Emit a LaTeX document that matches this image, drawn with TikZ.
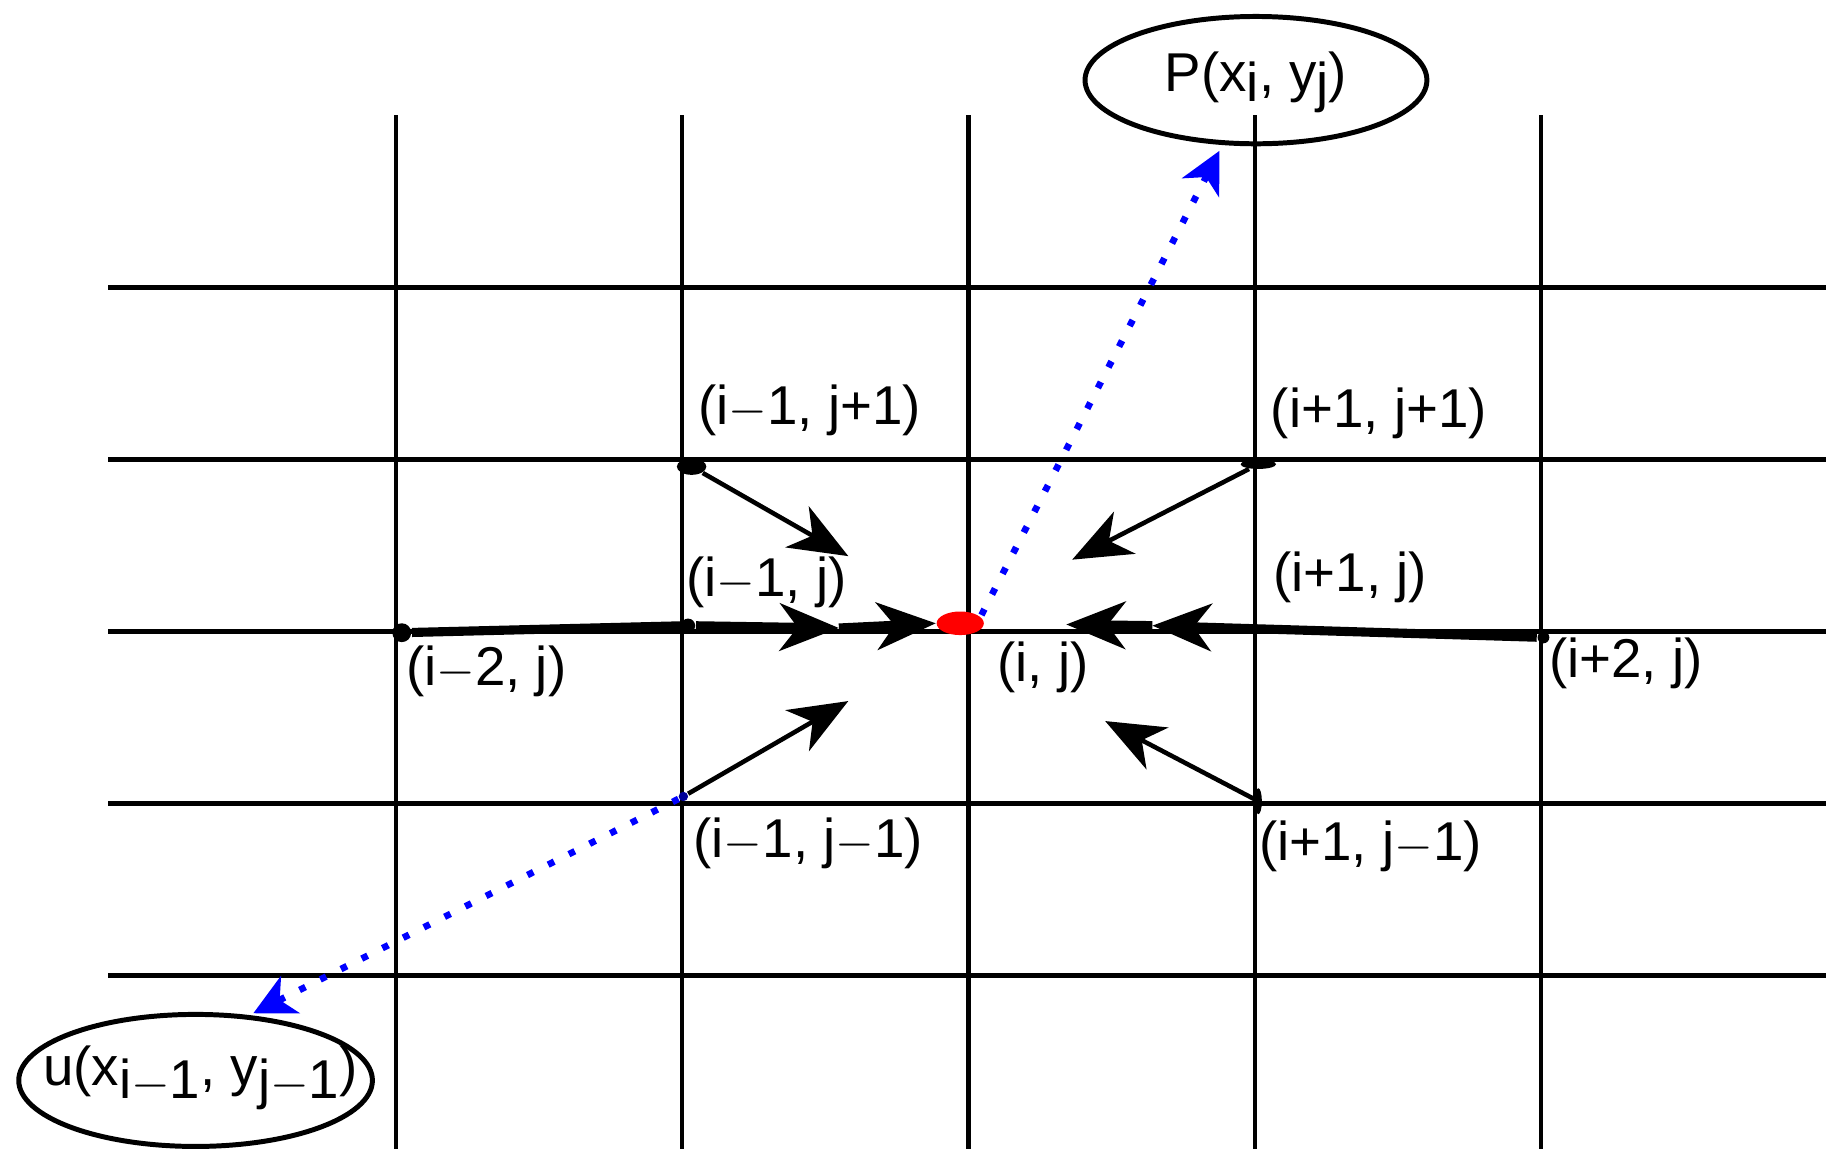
\documentclass[tikz,border=0pt]{standalone}
\usepackage{fontspec}
\setmainfont{Liberation Sans}
\usetikzlibrary{arrows.meta,shapes.geometric}
\begin{document}
\begin{tikzpicture}[x=0.01cm,y=-0.01cm,
  grid/.style={line width=1.1pt},
  arr/.style={line width=1.1pt,-{Stealth[length=0.5cm,width=0.4cm,inset=0.15cm]}},
  thk/.style={line width=2.2pt,-{Stealth[length=0.5cm,width=0.4cm,inset=0.15cm]}},
  blu/.style={blue,line width=1.6pt,dash pattern=on 1.6pt off 4pt,-{Stealth[length=0.35cm,width=0.35cm,inset=0.1cm]}},
  lab/.style={font=\fontsize{13.2}{15}\selectfont,inner sep=0pt},
  dot/.style={circle,fill=black,inner sep=0pt,minimum size=0.16cm}]
\useasboundingbox (0,0) rectangle (1560,993);
\foreach \x in {336,579,822,1065,1308} \draw[grid] (\x,98) -- (\x,975);
\foreach \y in {244,390,536,682,828} \draw[grid] (92,\y) -- (1550,\y);
\node[dot] (a) at (341,537) {};
\node[dot,minimum size=0.12cm] (b) at (584,531) {};
\node[ellipse,fill=black,inner sep=0pt,minimum width=0.25cm,minimum height=0.14cm] (c) at (587,396) {};
\node[circle,fill=blue!60!black,inner sep=0pt,minimum size=0.08cm] (d) at (580,676) {};
\node[ellipse,fill=black,inner sep=0pt,minimum width=0.3cm,minimum height=0.08cm] (e) at (1068,394) {};
\node[ellipse,fill=black,inner sep=0pt,minimum width=0.06cm,minimum height=0.22cm] (f) at (1068,680) {};
\node[dot,minimum size=0.1cm] (g) at (1310,541) {};
\node[ellipse,fill=red,inner sep=0pt,minimum width=0.4cm,minimum height=0.2cm] (ij) at (815,529) {};
\coordinate (m1) at (712,533);
\coordinate (m2) at (978,531);
\draw[line width=2.2pt] (a) -- (b);
\draw[thk] (b) -- (m1);
\draw[thk] (m1) -- (ij.west);
\draw[thk] (g) -- (m2);
\draw[thk] (m2) -- (905,530);
\draw[arr] (c) -- (720,472);
\draw[arr] (e) -- (910,475);
\draw[arr] (d) -- (720,595);
\draw[arr] (f) -- (938,612);
\node[ellipse,draw,line width=1.2pt,minimum width=2.9cm,minimum height=1.08cm] (P) at (1066,68) {};
\node[lab] at (1066,70) {P(x\raisebox{-0.35ex}{i}, y\raisebox{-0.35ex}{j})};
\node[ellipse,draw,line width=1.2pt,minimum width=3cm,minimum height=1.12cm] (U) at (166,917) {};
\node[lab] at (170,915) {u(x\raisebox{-0.45ex}{i$-$1}, y\raisebox{-0.45ex}{j$-$1})};
\draw[blu] (833,522) -- (1035,128);
\draw[blu] (d) -- (215,860);
\node[lab,anchor=west] at (592,348) {(i$-$1, j+1)};
\node[lab,anchor=west] at (1078,351) {(i+1, j+1)};
\node[lab,anchor=west] at (582,494) {(i$-$1, j)};
\node[lab,anchor=west] at (1080,490) {(i+1, j)};
\node[lab,anchor=west] at (344,570) {(i$-$2, j)};
\node[lab,anchor=west] at (846,566) {(i, j)};
\node[lab,anchor=west] at (1314,563) {(i+2, j)};
\node[lab,anchor=west] at (588,716) {(i$-$1, j$-$1)};
\node[lab,anchor=west] at (1068,718) {(i+1, j$-$1)};
\end{tikzpicture}
\end{document}
